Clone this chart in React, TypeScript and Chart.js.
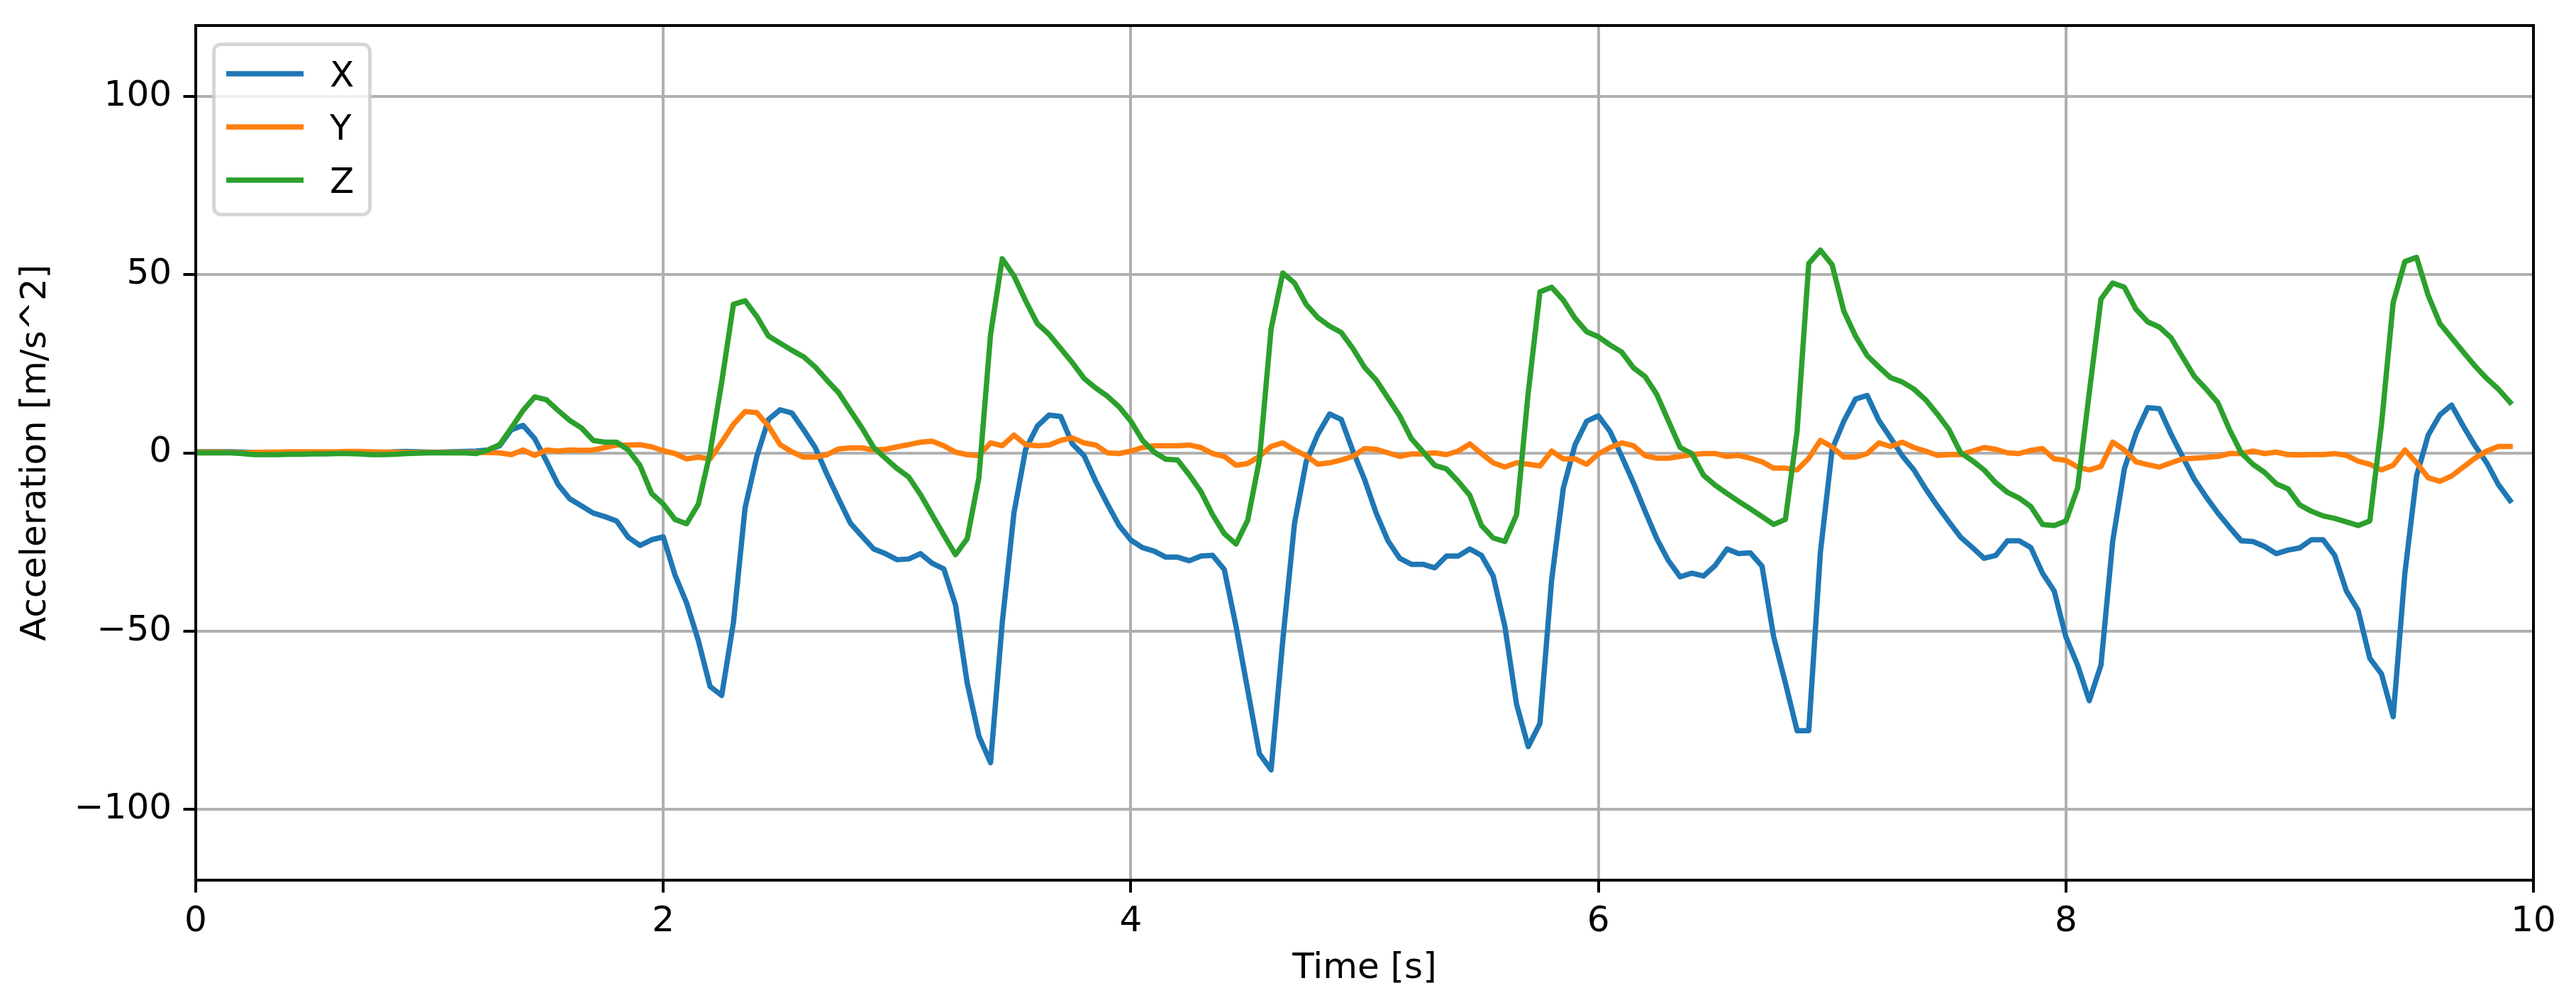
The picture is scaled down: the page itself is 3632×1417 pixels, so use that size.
import React, { useEffect, useRef } from 'react';
import { Chart, registerables } from 'chart.js';

Chart.register(...registerables);

// Sample times in seconds
const TIME_S = [
  0.0, 0.05, 0.1, 0.15, 0.2, 0.25, 0.3, 0.35, 0.4, 0.45, 0.5, 0.55, 0.6, 0.65, 0.7, 0.75, 0.8, 0.85, 0.9, 0.95,
  1.0, 1.05, 1.1, 1.15, 1.2, 1.25, 1.3, 1.35, 1.4, 1.45, 1.5, 1.55, 1.6, 1.65, 1.7, 1.75, 1.8, 1.85, 1.9, 1.95,
  2.0, 2.05, 2.1, 2.15, 2.2, 2.25, 2.3, 2.35, 2.4, 2.45, 2.5, 2.55, 2.6, 2.65, 2.7, 2.75, 2.8, 2.85, 2.9, 2.95,
  3.0, 3.05, 3.1, 3.15, 3.2, 3.25, 3.3, 3.35, 3.4, 3.45, 3.5, 3.55, 3.6, 3.65, 3.7, 3.75, 3.8, 3.85, 3.9, 3.95,
  4.0, 4.05, 4.1, 4.15, 4.2, 4.25, 4.3, 4.35, 4.4, 4.45, 4.5, 4.55, 4.6, 4.65, 4.7, 4.75, 4.8, 4.85, 4.9, 4.95,
  5.0, 5.05, 5.1, 5.15, 5.2, 5.25, 5.3, 5.35, 5.4, 5.45, 5.5, 5.55, 5.6, 5.65, 5.7, 5.75, 5.8, 5.85, 5.9, 5.95,
  6.0, 6.05, 6.1, 6.15, 6.2, 6.25, 6.3, 6.35, 6.4, 6.45, 6.5, 6.55, 6.6, 6.65, 6.7, 6.75, 6.8, 6.85, 6.9, 6.95,
  7.0, 7.05, 7.1, 7.15, 7.2, 7.25, 7.3, 7.35, 7.4, 7.45, 7.5, 7.55, 7.6, 7.65, 7.7, 7.75, 7.8, 7.85, 7.9, 7.95,
  8.0, 8.05, 8.1, 8.15, 8.2, 8.25, 8.3, 8.35, 8.4, 8.45, 8.5, 8.55, 8.6, 8.65, 8.7, 8.75, 8.8, 8.85, 8.9, 8.95,
  9.0, 9.05, 9.1, 9.15, 9.2, 9.25, 9.3, 9.35, 9.4, 9.45, 9.5, 9.55, 9.6, 9.65, 9.7, 9.75, 9.8, 9.85, 9.9,
];

// Acceleration X [m/s^2]
const ACC_X = [
  0.3, 0.3, 0.3, 0.3, 0.2, 0.1, 0.1, 0.0, 0.0, 0.1, 0.1, 0.1, 0.1, 0.1, 0.1, 0.0, 0.0, 0.3, 0.4, 0.3,
  0.2, 0.2, 0.3, 0.4, 0.5, 0.8, 2.0, 6.5, 7.7, 4.0, -2.3, -8.9, -12.9, -14.9, -16.9, -17.9, -19.1, -23.7, -26.0, -24.4,
  -23.6, -34.3, -42.2, -52.7, -65.6, -68.1, -47.7, -15.4, -1.0, 9.4, 12.1, 11.2, 6.5, 1.5, -6.0, -12.9, -19.7, -23.4, -27.0, -28.3,
  -30.0, -29.8, -28.3, -31.0, -32.6, -42.7, -64.6, -79.5, -87.0, -47.7, -16.9, 1.0, 7.5, 10.6, 10.2, 2.5, -0.8, -8.0, -14.4, -20.4,
  -24.5, -26.6, -27.6, -29.3, -29.3, -30.3, -29.0, -28.8, -32.8, -48.7, -66.6, -84.5, -89.0, -52.7, -19.9, -2.5, 5.2, 10.9, 9.4, 0.5,
  -7.5, -17.0, -24.7, -29.6, -31.3, -31.3, -32.3, -29.0, -29.0, -27.0, -28.8, -34.6, -48.7, -70.6, -82.5, -76.0, -35.8, -9.9, 2.2, 8.9,
  10.4, 6.0, -1.0, -8.4, -16.4, -24.1, -30.3, -34.8, -33.8, -34.6, -31.6, -27.0, -28.3, -28.1, -31.8, -51.7, -64.6, -78.0, -78.0, -27.8,
  1.0, 8.9, 15.1, 16.1, 9.1, 4.2, -0.8, -4.8, -10.1, -14.9, -19.4, -23.7, -26.6, -29.6, -28.8, -24.7, -24.7, -26.6, -33.8, -38.8,
  -51.7, -59.6, -69.6, -59.6, -24.9, -4.5, 5.5, 12.7, 12.4, 5.2, -1.2, -7.5, -12.4, -16.9, -20.9, -24.7, -24.9, -26.3, -28.3, -27.3,
  -26.7, -24.4, -24.4, -28.8, -38.8, -44.2, -57.7, -62.1, -74.1, -33.8, -6.5, 5.0, 10.7, 13.4, 7.5, 2.0, -2.8, -8.9, -13.4,
];

// Acceleration Y [m/s^2]
const ACC_Y = [
  0.2, 0.2, 0.2, 0.1, 0.0, 0.1, 0.2, 0.2, 0.3, 0.3, 0.3, 0.3, 0.3, 0.4, 0.4, 0.3, 0.2, 0.2, 0.1, 0.1,
  0.1, 0.1, 0.1, 0.1, 0.1, 0.1, 0.0, -0.5, 0.8, -0.7, 0.8, 0.5, 0.8, 0.7, 0.8, 1.5, 2.2, 2.2, 2.3, 1.7,
  0.6, -0.2, -1.7, -1.2, -1.7, 3.0, 8.0, 11.6, 11.3, 7.5, 2.3, 0.3, -1.2, -1.2, -0.5, 1.1, 1.4, 1.4, 0.8, 1.0,
  1.7, 2.3, 3.0, 3.3, 2.0, 0.2, -0.5, -0.8, 2.8, 2.0, 5.0, 2.3, 2.0, 2.2, 3.5, 4.2, 2.8, 2.2, 0.0, -0.2,
  0.5, 1.5, 2.0, 2.0, 2.0, 2.2, 1.5, -0.2, -1.0, -3.5, -3.0, -1.0, 1.8, 2.8, 0.8, -0.8, -3.2, -2.8, -2.0, -1.0,
  1.2, 1.0, 0.0, -1.0, -0.3, -0.3, 0.0, -0.5, 0.5, 2.5, -0.2, -2.8, -4.0, -2.8, -3.2, -3.7, 0.5, -1.7, -1.7, -3.2,
  -0.3, 1.5, 2.8, 2.0, -0.8, -1.5, -1.5, -1.0, -0.5, -0.2, -0.2, -1.0, -0.7, -1.5, -2.5, -4.3, -4.3, -4.8, -1.5, 3.5,
  1.7, -1.2, -1.2, -0.2, 2.8, 1.8, 3.0, 1.5, 0.5, -0.7, -0.5, -0.5, 0.5, 1.5, 1.0, 0.0, -0.2, 0.7, 1.2, -1.7,
  -2.1, -4.0, -4.8, -3.8, 3.0, 0.8, -2.5, -3.3, -4.0, -2.8, -1.7, -1.5, -1.3, -1.0, -0.2, -0.2, 0.5, -0.2, 0.2, -0.5,
  -0.6, -0.5, -0.5, -0.2, -0.7, -2.3, -3.2, -4.8, -3.5, 0.8, -2.8, -7.0, -8.0, -6.5, -4.0, -1.5, 0.5, 1.8, 1.8,
];

// Acceleration Z [m/s^2]
const ACC_Z = [
  0.0, 0.0, 0.0, 0.0, -0.2, -0.5, -0.5, -0.5, -0.4, -0.4, -0.3, -0.3, -0.2, -0.2, -0.3, -0.5, -0.5, -0.4, -0.2, -0.1,
  0.0, 0.0, 0.0, 0.0, -0.2, 0.8, 2.3, 7.0, 11.9, 15.7, 14.9, 11.9, 9.1, 7.0, 3.5, 3.0, 3.0, 0.8, -3.5, -11.4,
  -14.4, -18.7, -19.9, -14.4, 0.0, 19.9, 41.7, 42.7, 38.3, 32.8, 30.8, 28.8, 27.0, 24.1, 20.4, 16.9, 11.9, 7.0, 1.5, -1.5,
  -4.4, -6.8, -11.7, -17.4, -23.1, -28.6, -24.1, -7.0, 33.3, 54.5, 49.7, 42.7, 36.3, 33.3, 29.3, 25.3, 20.9, 18.2, 15.9, 12.9,
  8.9, 3.5, 0.2, -1.8, -2.0, -6.2, -10.9, -17.4, -22.7, -25.6, -18.9, -2.0, 34.8, 50.5, 47.7, 41.7, 38.0, 35.6, 33.8, 29.3,
  24.0, 20.4, 15.4, 10.4, 4.0, 0.3, -3.5, -4.5, -8.0, -11.9, -20.4, -23.9, -24.9, -17.4, 16.9, 45.2, 46.5, 42.9, 37.8, 34.0,
  32.6, 30.3, 28.3, 23.9, 21.4, 16.4, 8.9, 1.5, -0.2, -6.3, -9.1, -11.4, -13.6, -15.7, -17.9, -20.1, -18.7, 6.0, 53.2, 56.9,
  52.8, 39.8, 32.8, 27.3, 24.1, 21.1, 19.9, 17.9, 14.9, 10.9, 6.5, 0.0, -2.2, -4.8, -8.4, -11.1, -12.7, -15.1, -20.1, -20.4,
  -19.1, -9.9, 16.9, 43.2, 47.7, 46.5, 40.3, 36.8, 35.3, 32.3, 26.8, 21.4, 17.9, 14.1, 6.5, 0.0, -3.2, -5.5, -8.7, -10.1,
  -14.6, -16.4, -17.7, -18.4, -19.4, -20.4, -19.1, 8.0, 42.2, 53.7, 54.9, 44.2, 36.3, 32.3, 28.3, 24.4, 20.9, 17.9, 14.2,
];

const SERIES_LABELS = ['X', 'Y', 'Z'];
const SERIES_VALUES = [ACC_X, ACC_Y, ACC_Z];
const SERIES_COLORS = ['#1f77b4', '#ff7f0e', '#2ca02c'];

const X_TICKS = [0, 2, 4, 6, 8, 10];
const Y_TICKS = [-100, -50, 0, 50, 100];
const X_RANGE = [0, 10];
const Y_RANGE = [-120, 120];
const X_TITLE = 'Time [s]';
const Y_TITLE = 'Acceleration [m/s^2]';

const W = 3632;
const H = 1417;
const FONT = 'DejaVu Sans';
const FS = 50;

const framePlugin = {
  id: 'mplFrame',
  afterDatasetsDraw(chart: any) {
    const { ctx, chartArea } = chart;
    const { left, top, right, bottom } = chartArea;
    ctx.save();
    ctx.strokeStyle = '#000000';
    ctx.lineWidth = 4;
    ctx.lineJoin = 'miter';
    ctx.strokeRect(left, top, right - left, bottom - top);
    ctx.restore();
  },
  afterDraw(chart: any) {
    const { ctx, chartArea } = chart;
    const L = chartArea.left;
    const T = chartArea.top;
    const bx = L + 25.5;
    const by = T + 26.5;
    const bw = 220;
    const bh = 240;
    const r = 10;
    ctx.save();
    ctx.beginPath();
    ctx.moveTo(bx + r, by);
    ctx.lineTo(bx + bw - r, by);
    ctx.arcTo(bx + bw, by, bx + bw, by + r, r);
    ctx.lineTo(bx + bw, by + bh - r);
    ctx.arcTo(bx + bw, by + bh, bx + bw - r, by + bh, r);
    ctx.lineTo(bx + r, by + bh);
    ctx.arcTo(bx, by + bh, bx, by + bh - r, r);
    ctx.lineTo(bx, by + r);
    ctx.arcTo(bx, by, bx + r, by, r);
    ctx.closePath();
    ctx.fillStyle = 'rgba(255,255,255,0.8)';
    ctx.fill();
    ctx.strokeStyle = 'rgba(204,204,204,0.8)';
    ctx.lineWidth = 5;
    ctx.stroke();

    chart.data.datasets.forEach((ds: any, i: number) => {
      const cy = T + 68 + 75 * i;
      ctx.beginPath();
      ctx.strokeStyle = ds.borderColor;
      ctx.lineWidth = 7.5;
      ctx.lineCap = 'butt';
      ctx.moveTo(L + 43, cy);
      ctx.lineTo(L + 152, cy);
      ctx.stroke();
      ctx.fillStyle = '#000000';
      ctx.font = `${FS}px "${FONT}"`;
      ctx.textAlign = 'left';
      ctx.textBaseline = 'alphabetic';
      ctx.fillText(ds.label, L + 189, cy + 18);
    });
    ctx.restore();
  },
};

const fmt = (v: number) => (v < 0 ? '\u2212' + Math.abs(v) : String(v));

export default function App() {
  const ref = useRef<HTMLCanvasElement | null>(null);

  useEffect(() => {
    const canvas = ref.current;
    if (!canvas) return;
    const datasets = SERIES_LABELS.map((label, si) => ({
      label,
      data: TIME_S.map((t, i) => ({ x: t, y: SERIES_VALUES[si][i] })),
      borderColor: SERIES_COLORS[si],
      backgroundColor: SERIES_COLORS[si],
      borderWidth: 7.5,
      pointRadius: 0,
      pointHoverRadius: 0,
      tension: 0,
      fill: false,
      borderJoinStyle: 'round' as const,
      borderCapStyle: 'square' as const,
      order: SERIES_LABELS.length - si,
    }));

    const chart = new Chart(canvas, {
      type: 'line',
      data: { datasets },
      options: {
        animation: false,
        responsive: false,
        devicePixelRatio: 1,
        events: [],
        layout: { padding: { left: 0, top: 36, right: 60, bottom: 0 } },
        plugins: {
          legend: { display: false },
          tooltip: { enabled: false },
        },
        scales: {
          x: {
            type: 'linear',
            min: X_RANGE[0],
            max: X_RANGE[1],
            afterBuildTicks: (s: any) => {
              s.ticks = X_TICKS.map((v) => ({ value: v }));
            },
            afterFit: (s: any) => {
              s.height = 176;
              s.paddingLeft = 0;
              s.paddingRight = 0;
              s.paddingTop = 0;
              s.paddingBottom = 0;
            },
            border: { display: false },
            grid: {
              color: '#b0b0b0',
              lineWidth: 4,
              drawTicks: true,
              tickLength: 17.5,
              tickColor: '#000000',
              tickWidth: 4,
            },
            ticks: {
              color: '#000000',
              font: { family: FONT, size: FS },
              padding: 12,
              maxRotation: 0,
              autoSkip: false,
              callback: (v: any) => fmt(Number(v)),
            },
            title: {
              display: true,
              text: X_TITLE,
              color: '#000000',
              font: { family: FONT, size: FS },
              padding: { top: 21, bottom: 21 },
            },
          },
          y: {
            type: 'linear',
            min: Y_RANGE[0],
            max: Y_RANGE[1],
            afterBuildTicks: (s: any) => {
              s.ticks = Y_TICKS.map((v) => ({ value: v }));
            },
            afterFit: (s: any) => {
              s.width = 276;
              s.paddingLeft = 0;
              s.paddingRight = 0;
              s.paddingTop = 0;
              s.paddingBottom = 0;
            },
            border: { display: false },
            grid: {
              color: '#b0b0b0',
              lineWidth: 4,
              drawTicks: true,
              tickLength: 17.5,
              tickColor: '#000000',
              tickWidth: 4,
            },
            ticks: {
              color: '#000000',
              font: { family: FONT, size: FS },
              padding: 16.5,
              autoSkip: false,
              callback: (v: any) => fmt(Number(v)),
            },
            title: {
              display: true,
              text: Y_TITLE,
              color: '#000000',
              font: { family: FONT, size: FS },
              padding: { top: 21, bottom: 21 },
            },
          },
        },
      },
      plugins: [framePlugin],
    });

    return () => chart.destroy();
  }, []);

  return (
    <div style={{ position: 'fixed', left: 0, top: 0, width: W, height: H, background: '#ffffff' }}>
      <canvas ref={ref} width={W} height={H} style={{ display: 'block', width: W, height: H }} />
    </div>
  );
}
